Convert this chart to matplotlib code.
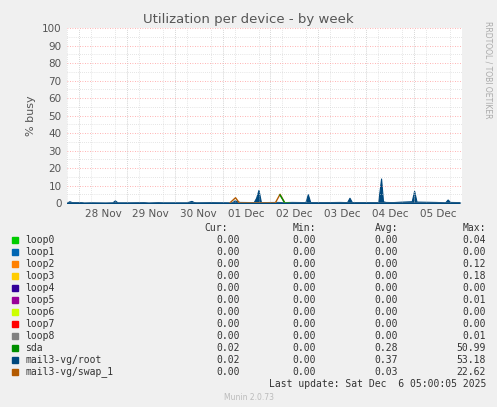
import matplotlib
matplotlib.use("Agg")
import matplotlib.pyplot as plt
from matplotlib.ticker import MultipleLocator

W,H=497,407
names=["loop0","loop1","loop2","loop3","loop4","loop5","loop6","loop7","loop8","sda","mail3-vg/root","mail3-vg/swap_1"]
colors=["#00cc00","#0066b3","#ff8000","#ffcc00","#330099","#990099","#ccff00","#ff0000","#808080","#008f00","#00487d","#b35a00"]
cur=["0.00","0.00","0.00","0.00","0.00","0.00","0.00","0.00","0.00","0.02","0.02","0.00"]
mn=["0.00"]*12
avg=["0.00","0.00","0.00","0.00","0.00","0.00","0.00","0.00","0.00","0.28","0.37","0.03"]
mx=["0.04","0.00","0.12","0.18","0.00","0.01","0.00","0.00","0.01","50.99","53.18","22.62"]
day_labels=["28 Nov","29 Nov","30 Nov","01 Dec","02 Dec","03 Dec","04 Dec","05 Dec"]

root_t=[0.0,0.05,0.1,0.3,0.35,0.5,0.8,0.95,1.0,1.05,1.3,1.6,1.7,1.9,2.0,2.5,2.6,2.65,2.7,3.0,3.4,3.45,3.5,3.6,3.9,3.95,4.0,4.05,4.4,4.5,4.7,4.98,5.03,5.08,5.4,5.7,5.85,5.9,5.95,6.3,6.5,6.56,6.6,6.65,6.8,7.0,7.2,7.25,7.3,7.7,7.9,7.95,8.0,8.2]
root_v=[0.3,1.0,0.5,0.5,0.3,0.4,0.3,0.4,1.5,0.4,0.4,0.5,0.3,0.5,0.4,0.4,1.2,0.5,0.4,0.5,0.4,0.4,1.5,0.6,0.5,3.0,7.5,0.5,0.6,0.5,0.6,0.5,5.0,0.5,0.5,0.6,0.5,3.0,0.5,0.5,0.5,14.0,1.0,0.6,0.5,0.8,1.0,7.0,0.8,0.6,0.4,2.0,0.6,0.5]
swap_t=[3.4,3.52,3.6,4.35,4.45,4.55]
swap_v=[0.0,3.0,0.0,0.0,5.0,0.0]
sda_t=[4.45,4.55,4.58,4.65]
sda_v=[4.5,0.0,0.0,0.0]

fig=plt.figure(figsize=(W/100,H/100),dpi=100)
fig.patch.set_facecolor("#f0f0f0")
ax=fig.add_axes([67/W,1-203/H,(462-67)/W,(203-28)/H])
ax.set_facecolor("white")
ax.fill_between(root_t,root_v,color=colors[10],lw=0.8)
ax.plot(swap_t,swap_v,color=colors[11],lw=1)
ax.plot(sda_t,sda_v,color=colors[9],lw=1)
ax.set_xlim(0,8.2); ax.set_ylim(0,100)
ax.yaxis.set_major_locator(MultipleLocator(10))
ax.yaxis.set_minor_locator(MultipleLocator(5))
ax.set_xticks([0.75+i for i in range(8)])
ax.set_xticklabels(day_labels)
ax.set_xticks([0.25+i for i in range(9)]+[i*0.25 for i in range(33)],minor=True)
ax.grid(True,which="major",axis="y",color="#ff9999",ls=(0,(1,2)),lw=0.6)
ax.grid(True,which="minor",color="#cccccc",ls=(0,(1,2)),lw=0.5)
for s in ax.spines.values(): s.set_visible(False)
ax.axhline(0,color="#b0b0b0",lw=1)
ax.tick_params(which="both",labelsize=7.5,colors="#555555",length=0,pad=4)
ax.set_ylabel("% busy",fontsize=8,color="#555555")
fig.text(0.5,1-19/H,"Utilization per device - by week",ha="center",va="center",fontsize=9.5,color="#555555")
fig.text(488/W,1-70/H,"RRDTOOL / TOBI OETIKER",rotation=270,ha="center",va="center",fontsize=5.5,color="#aaaaaa")
mono=dict(family="DejaVu Sans Mono",fontsize=7,color="#333333")
fig.text(228/W,1-228/H,"Cur:",ha="right",va="center",**mono)
fig.text(316/W,1-228/H,"Min:",ha="right",va="center",**mono)
fig.text(398/W,1-228/H,"Avg:",ha="right",va="center",**mono)
fig.text(486/W,1-228/H,"Max:",ha="right",va="center",**mono)
for i,n in enumerate(names):
    y=1-(240+i*12)/H
    fig.patches.append(plt.Rectangle((12/W,y-3/H),6/W,6/H,color=colors[i],transform=fig.transFigure))
    fig.text(25/W,y,n,va="center",**mono)
    fig.text(240/W,y,cur[i],ha="right",va="center",**mono)
    fig.text(316/W,y,mn[i],ha="right",va="center",**mono)
    fig.text(398/W,y,avg[i],ha="right",va="center",**mono)
    fig.text(486/W,y,mx[i],ha="right",va="center",**mono)
fig.text(486/W,1-384/H,"Last update: Sat Dec  6 05:00:05 2025",ha="right",va="center",**mono)
fig.text(0.5,1-398/H,"Munin 2.0.73",ha="center",va="center",fontsize=5.5,color="#bbbbbb")
fig.savefig("out.png",dpi=100,facecolor=fig.get_facecolor())
